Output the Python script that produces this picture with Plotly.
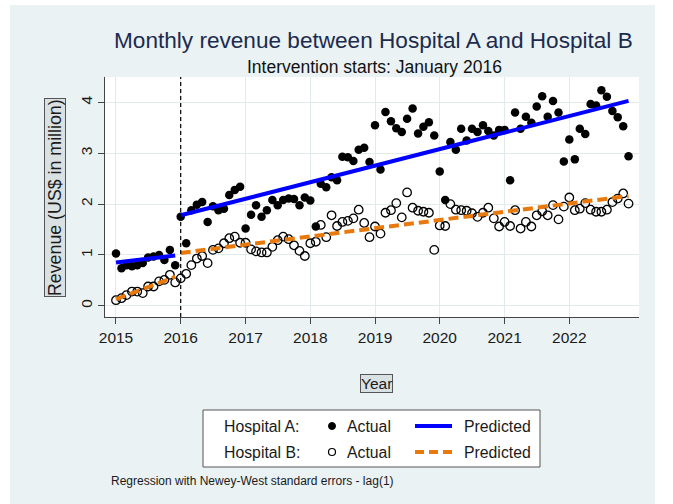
import pandas as pd
import plotly.graph_objects as go

# ---------------- data ----------------
months = pd.date_range("2015-01-01", periods=96, freq="MS")

hospital_a_actual = [
    1.03, 0.74, 0.80, 0.78, 0.80, 0.84, 0.95, 0.97, 1.00, 0.90, 1.10, 0.80,
    1.75, 1.23, 1.88, 1.99, 2.04, 1.65, 1.96, 1.88, 1.91, 2.18, 2.28, 2.34,
    1.52, 1.79, 1.98, 1.75, 1.88, 2.08, 1.98, 2.08, 2.11, 2.10, 1.98, 2.13,
    2.07, 1.56, 2.40, 2.33, 2.53, 2.47, 2.93, 2.92, 2.85, 3.07, 3.11, 2.83,
    3.55, 2.68, 3.81, 3.63, 3.49, 3.42, 3.68, 3.88, 3.39, 3.52, 3.61, 3.35,
    2.64, 2.08, 3.22, 3.07, 3.48, 3.25, 3.48, 3.42, 3.55, 3.44, 3.35, 3.46,
    3.46, 2.47, 3.80, 3.48, 3.72, 3.60, 3.92, 4.12, 3.72, 4.03, 3.80, 2.84,
    3.27, 2.88, 3.48, 3.38, 3.97, 3.94, 4.24, 4.11, 3.83, 3.71, 3.53, 2.94,
]

hospital_b_actual = [
    0.11, 0.15, 0.21, 0.28, 0.28, 0.25, 0.38, 0.38, 0.48, 0.51, 0.61, 0.46,
    0.54, 0.63, 0.80, 0.93, 0.98, 0.84, 1.10, 1.13, 1.23, 1.33, 1.36, 1.24,
    1.24, 1.11, 1.07, 1.05, 1.05, 1.16, 1.29, 1.36, 1.31, 1.19, 1.08, 0.98,
    1.23, 1.26, 1.59, 1.35, 1.78, 1.57, 1.65, 1.67, 1.72, 1.89, 1.63, 1.35,
    1.56, 1.42, 1.83, 1.88, 2.02, 1.74, 2.23, 1.93, 1.87, 1.85, 1.83, 1.10,
    1.58, 1.57, 2.00, 1.89, 1.88, 1.87, 1.82, 1.75, 1.83, 1.93, 1.72, 1.56,
    1.65, 1.57, 1.88, 1.52, 1.65, 1.56, 1.78, 1.86, 1.78, 1.98, 1.70, 1.95,
    2.13, 1.88, 1.91, 2.02, 1.89, 1.85, 1.85, 1.89, 2.04, 2.11, 2.21, 2.01,
]

pred_dates_pre = ["2015-01-01", "2015-12-01"]
pred_dates_post = ["2016-01-01", "2022-12-01"]
hospital_a_pred_pre = [0.85, 0.99]
hospital_a_pred_post = [1.78, 4.03]
hospital_b_pred_pre = [0.13, 0.57]
hospital_b_pred_post = [1.04, 2.16]

intervention_date = "2016-01-01"
year_ticks = [f"{y}-01-01" for y in range(2015, 2023)]
year_labels = [str(y) for y in range(2015, 2023)]
y_ticks = [0, 1, 2, 3, 4]

# ---------------- styling ----------------
W, H = 673, 504
L, R, T, B = 105, 639, 77, 317
BG = "#eaf2f3"
BLUE = "#0000ff"
ORANGE = "#e8790c"
FONT = "Liberation Sans, Arial, sans-serif"


def px_x(px):
    return (px - L) / (R - L)


def px_y(py):
    return (B - py) / (B - T)


fig = go.Figure()

fig.add_trace(go.Scatter(
    x=months, y=hospital_a_actual, mode="markers",
    marker=dict(symbol="circle", size=8.5, color="black"),
    showlegend=False, hoverinfo="x+y"))
fig.add_trace(go.Scatter(
    x=months, y=hospital_b_actual, mode="markers",
    marker=dict(symbol="circle-open", size=8.5, color="black", line=dict(width=1.3)),
    showlegend=False, hoverinfo="x+y"))

for xs, ys in [(pred_dates_pre, hospital_a_pred_pre), (pred_dates_post, hospital_a_pred_post)]:
    fig.add_trace(go.Scatter(x=xs, y=ys, mode="lines",
                             line=dict(color=BLUE, width=4),
                             showlegend=False))
for xs, ys in [(pred_dates_pre, hospital_b_pred_pre), (pred_dates_post, hospital_b_pred_post)]:
    fig.add_trace(go.Scatter(x=xs, y=ys, mode="lines",
                             line=dict(color=ORANGE, width=4, dash="10px,5px"),
                             showlegend=False))

shapes = []
# white strips around the grey graph region (paper background is grey)
for (x0, x1, y0, y1) in [(0, W, 0, 5), (0, 10, 0, H), (655, W, 0, H)]:
    shapes.append(dict(type="rect", xref="paper", yref="paper",
                       x0=px_x(x0), x1=px_x(x1), y0=px_y(y1), y1=px_y(y0),
                       fillcolor="white", line=dict(width=0), layer="below"))
# intervention line
shapes.append(dict(type="line", xref="x", yref="paper",
                   x0=intervention_date, x1=intervention_date, y0=0, y1=1,
                   line=dict(color="black", width=1.2, dash="4px,3px")))

# legend box
shapes.append(dict(type="rect", xref="paper", yref="paper",
                   x0=px_x(203), x1=px_x(540), y0=px_y(467), y1=px_y(410),
                   fillcolor="white", line=dict(color="#555555", width=1), layer="above"))
row1, row2 = 426, 452
r = 3.5
shapes.append(dict(type="circle", xref="paper", yref="paper",
                   x0=px_x(332 - r), x1=px_x(332 + r), y0=px_y(row1 + r), y1=px_y(row1 - r),
                   fillcolor="black", line=dict(color="black", width=1), layer="above"))
shapes.append(dict(type="circle", xref="paper", yref="paper",
                   x0=px_x(332 - r), x1=px_x(332 + r), y0=px_y(row2 + r), y1=px_y(row2 - r),
                   fillcolor="white", line=dict(color="black", width=1.2), layer="above"))
shapes.append(dict(type="line", xref="paper", yref="paper",
                   x0=px_x(415), x1=px_x(452), y0=px_y(row1), y1=px_y(row1),
                   line=dict(color=BLUE, width=4), layer="above"))
shapes.append(dict(type="line", xref="paper", yref="paper",
                   x0=px_x(415), x1=px_x(452), y0=px_y(row2), y1=px_y(row2),
                   line=dict(color=ORANGE, width=4, dash="9px,5px"), layer="above"))

annotations = []


def add_text(text, px, py, size, color="#1a1a1a", xanchor="left", **kw):
    annotations.append(dict(text=text, xref="paper", yref="paper",
                            x=px_x(px), y=px_y(py), xanchor=xanchor, yanchor="middle",
                            showarrow=False, font=dict(family=FONT, size=size, color=color), **kw))


add_text("Monthly revenue between Hospital A and Hospital B", 373, 40, 22.6,
         color="#1c2b4e", xanchor="center")
add_text("Intervention starts: January 2016", 374, 67, 17.5, color="#111111", xanchor="center")
add_text("Hospital A:", 222, row1, 15.8)
add_text("Hospital B:", 222, row2, 15.8)
add_text("Actual", 345, row1, 15.8)
add_text("Actual", 345, row2, 15.8)
add_text("Predicted", 462, row1, 15.8)
add_text("Predicted", 462, row2, 15.8)
add_text("Regression with Newey-West standard errors - lag(1)", 109, 481, 12)
# axis titles (boxed)
add_text("Year", 376, 383, 15.5, xanchor="center",
         bordercolor="#555555", borderwidth=1, borderpad=0, bgcolor="#d9e1e3")
add_text("Revenue (US$ in million)", 55, 198, 17.8, xanchor="center", textangle=-90,
         bordercolor="#555555", borderwidth=1, borderpad=0, bgcolor="#d9e1e3")

fig.update_layout(
    width=W, height=H,
    margin=dict(l=L, r=W - R, t=T, b=H - B, pad=0),
    paper_bgcolor=BG, plot_bgcolor="white",
    font=dict(family=FONT, size=15.5, color="#1a1a1a"),
    showlegend=False,
    shapes=shapes, annotations=annotations,
    xaxis=dict(type="date", range=["2014-10-31", "2023-01-29"],
               tickvals=year_ticks, ticktext=year_labels,
               showgrid=True, gridcolor="#e2eaec", gridwidth=1,
               showline=True, linecolor="#444444", linewidth=1,
               ticks="outside", ticklen=6, tickcolor="#444444",
               tickfont=dict(size=15.5), zeroline=False, fixedrange=True,
               automargin=False),
    yaxis=dict(range=[-0.22, 4.5], tickvals=y_ticks,
               showgrid=True, gridcolor="#e2eaec", gridwidth=1,
               showline=True, linecolor="#444444", linewidth=1,
               ticks="outside", ticklen=6, tickcolor="#444444",
               tickangle=-90, tickfont=dict(size=15.5), zeroline=False, fixedrange=True,
               automargin=False),
)

fig.write_html("out.html", config={"displayModeBar": False},
               post_script="document.body.style.margin='0';document.body.style.padding='0';")
